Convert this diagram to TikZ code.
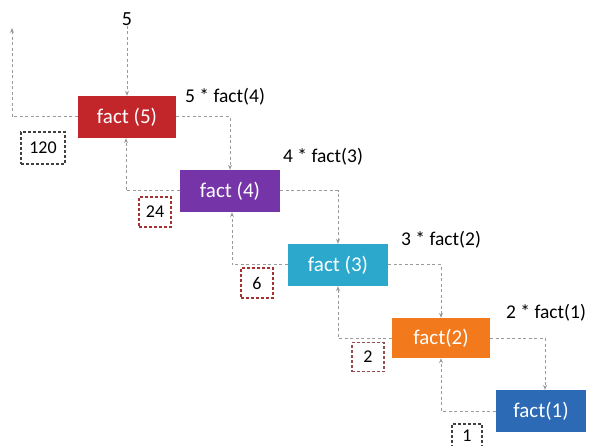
\documentclass[tikz,border=0pt]{standalone}
\usepackage{fontspec}
\setmainfont{Carlito}
\usetikzlibrary{arrows.meta}
\definecolor{cred}{HTML}{C3262A}
\definecolor{cpurple}{HTML}{7534A8}
\definecolor{ccyan}{HTML}{2BA8CC}
\definecolor{corange}{HTML}{F27A1C}
\definecolor{cblue}{HTML}{2C6AB5}
\definecolor{lgray}{HTML}{9A9A9A}
\begin{document}
\begin{tikzpicture}[x=1pt,y=-1pt,
  factbox/.style={fill=#1, text=white, minimum width=98pt, minimum height=42pt, inner sep=0pt, font=\fontsize{21}{23}\selectfont},
  resbox/.style={draw=#1, dashed, line width=1.2pt, dash pattern=on 3pt off 2pt, minimum width=32pt, minimum height=30pt, inner sep=0pt, font=\fontsize{18}{20}\selectfont},
  conn/.style={draw=lgray, line width=1pt, dash pattern=on 3pt off 2.5pt, -{Stealth[length=5pt,width=4pt]}},
  lbl/.style={font=\fontsize{19.5}{21}\selectfont, inner sep=0pt}]
\useasboundingbox (0,0) rectangle (589,446);
% boxes
\node[factbox=cred] (f5) at (127,117) {fact (5)};
\node[factbox=cpurple, minimum width=100pt] (f4) at (230,191) {fact (4)};
\node[factbox=ccyan, minimum width=100pt] (f3) at (338,265) {fact (3)};
\node[factbox=corange, minimum height=40pt] (f2) at (441,338) {fact(2)};
\node[factbox=cblue, minimum width=90pt] (f1) at (541,411) {fact(1)};
% top input
\node[lbl, font=\fontsize{20}{22}\selectfont] (in) at (127,19) {5};
\coordinate (out) at (12,28);
% labels
\node[lbl] (l4) at (225,97) {5 * fact(4)};
\node[lbl] (l3) at (323,157) {4 * fact(3)};
\node[lbl] (l2) at (441,240) {3 * fact(2)};
\node[lbl] (l1) at (546,313) {2 * fact(1)};
% result boxes
\node[resbox=black!75, minimum width=44pt, minimum height=32pt] (r120) at (43,148) {120};
\node[resbox=red!55!black!80] (r24) at (155,212) {24};
\node[resbox=red!55!black!80] (r6) at (257,283) {6};
\node[resbox=red!40!black!70, minimum height=29pt] (r2) at (368,357) {2};
\node[resbox=black!75, minimum height=24pt, minimum width=30pt] (r1) at (467,436) {1};
% calls
\draw[conn] (in.south) -- (f5.north);
\draw[conn] (f5.east) -| (f4.north);
\draw[conn] (f4.east) -| (f3.north);
\draw[conn] (f3.east) -| (f2.north);
\draw[conn] (f2.east) -| ([xshift=4pt]f1.north);
% returns
\draw[conn] (f1.west) -| (f2.south);
\draw[conn] (f2.west) -| (f3.south);
\draw[conn] (f3.west) -| ([xshift=2pt]f4.south);
\draw[conn] (f4.west) -| ([xshift=-1pt]f5.south);
\draw[conn] (f5.west) -| (out);
\end{tikzpicture}
\end{document}
